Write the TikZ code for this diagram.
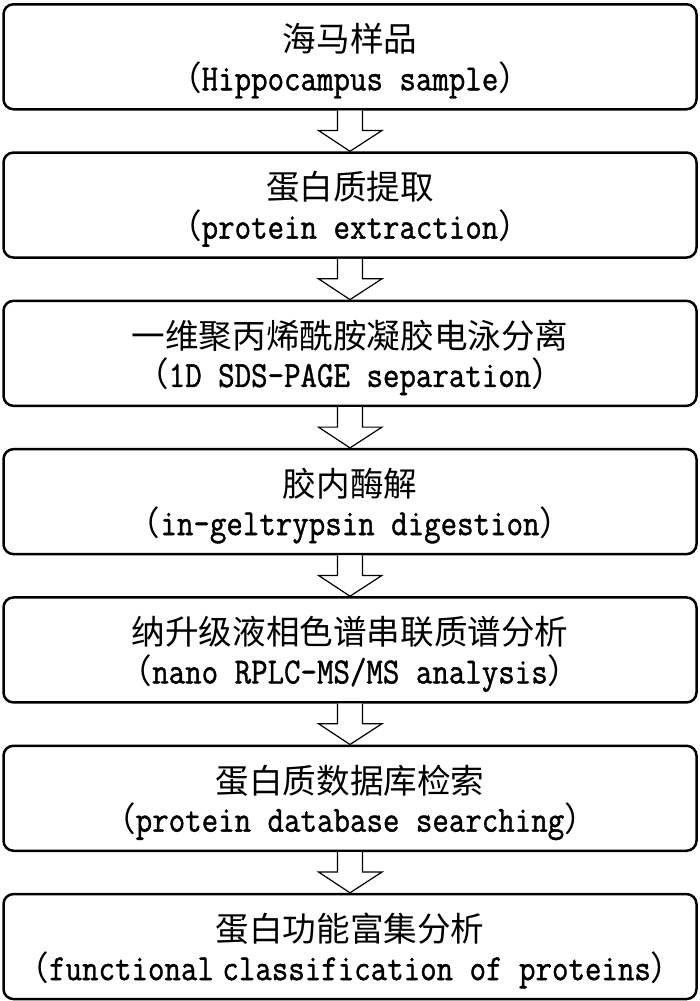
\documentclass[tikz,border=0pt]{standalone}
\usepackage{fontspec}
\usepackage{graphicx}
\newfontfamily\cjk{Noto Sans CJK SC}
\newfontfamily\enmono[FakeBold=1.2]{Latin Modern Mono}
\usetikzlibrary{calc}
\newcommand\entext[1]{{\cjk\fontsize{33.6pt}{40pt}\selectfont （}\scalebox{1}[1.15]{\enmono\fontsize{32pt}{36pt}\selectfont #1}{\cjk\fontsize{33.6pt}{40pt}\selectfont ）}}
\tikzset{
  stepbox/.style={draw=black, line width=2.5pt, rounded corners=10pt, minimum width=693pt, minimum height=105pt, inner sep=0pt, anchor=north},
  zhlabel/.style={font=\cjk\fontsize{33.6pt}{40pt}\selectfont, inner sep=0pt},
  enlabel/.style={inner sep=0pt},
  blockarrow/.style={draw=black, line width=1.2pt, fill=white, line join=miter}
}
\begin{document}
\begin{tikzpicture}[x=1pt,y=1pt]
\useasboundingbox (0,0) rectangle (700,-1001);
\foreach \i/\zh/\en in {
  1/海马样品/Hippocampus sample,
  2/蛋白质提取/protein extraction,
  3/一维聚丙烯酰胺凝胶电泳分离/1D SDS-PAGE separation,
  4/胶内酶解/in-geltrypsin digestion,
  5/纳升级液相色谱串联质谱分析/nano RPLC-MS\slash MS analysis,
  6/蛋白质数据库检索/protein database searching,
  7/蛋白功能富集分析/functional\hspace{-8pt} classification of proteins}{
  \node[stepbox] (b\i) at (350, {-3-148.3*(\i-1)}) {};
  \node[zhlabel] (z\i) at ([yshift=-36pt]b\i.north) {\zh};
  \node[enlabel] (e\i) at ([yshift=-77pt]b\i.north) {\entext{\en}};
}
\foreach \a/\b in {1/2,2/3,3/4,4/5,5/6,6/7}{
  \draw[blockarrow] ([xshift=-12.5pt]b\a.south) -- ++(0,-20) -- ++(-19,0) -- (b\b.north) -- ($([yshift=-20pt]b\a.south)+(32,0)$) -- ++(-19.5,0) -- ([xshift=12.5pt]b\a.south);
}
\end{tikzpicture}
\end{document}
